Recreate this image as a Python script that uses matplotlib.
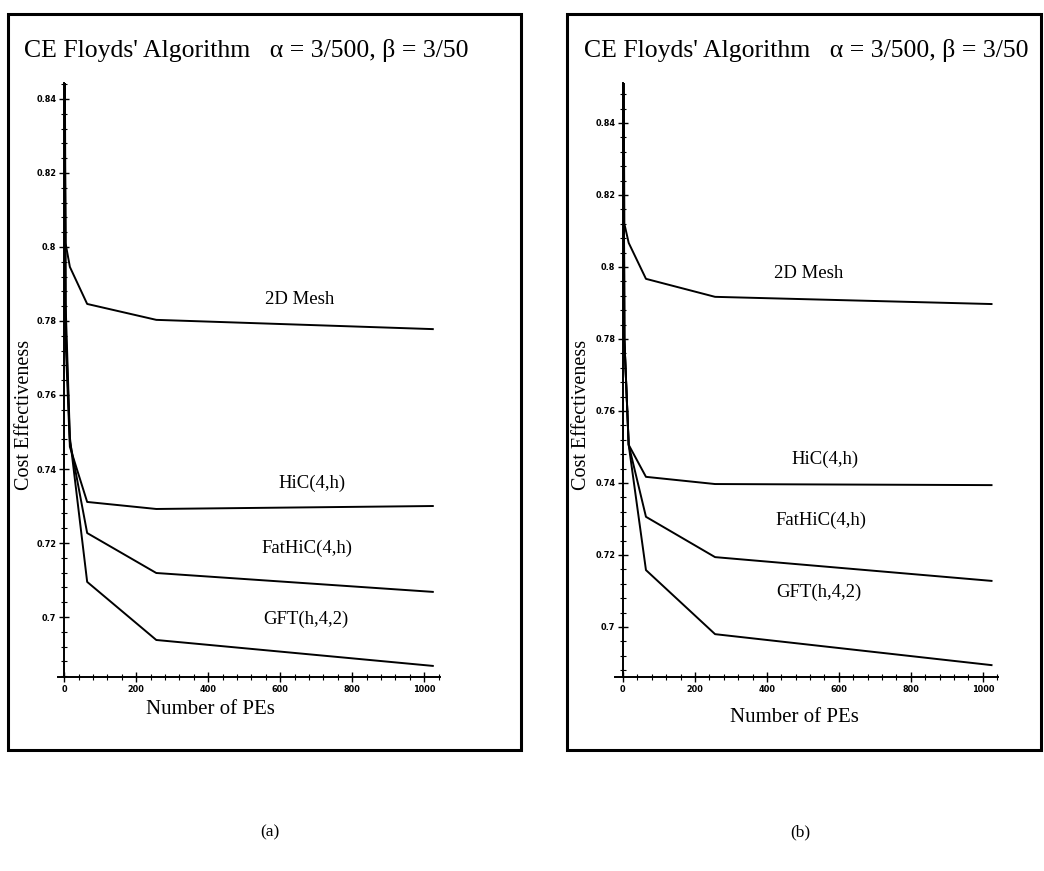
import matplotlib
matplotlib.use("Agg")
import matplotlib.pyplot as plt
from matplotlib.patches import Rectangle
from matplotlib.ticker import AutoMinorLocator

# ---- data ----
pes = [1, 4, 16, 64, 256, 1024]
series_names = ["2D Mesh", "HiC(4,h)", "FatHiC(4,h)", "GFT(h,4,2)"]

a_mesh = [0.870, 0.801, 0.7946, 0.7846, 0.7803, 0.7778]
a_hic = [0.860, 0.775, 0.7460, 0.7311, 0.7292, 0.7300]
a_fat = [0.860, 0.780, 0.7475, 0.7227, 0.7119, 0.7068]
a_gft = [0.860, 0.785, 0.7485, 0.7095, 0.6938, 0.6868]

b_mesh = [0.880, 0.812, 0.8067, 0.7967, 0.7917, 0.7897]
b_hic = [0.870, 0.780, 0.7506, 0.7417, 0.7397, 0.7394]
b_fat = [0.870, 0.780, 0.7506, 0.7306, 0.7194, 0.7128]
b_gft = [0.870, 0.780, 0.7506, 0.7158, 0.6980, 0.6894]

x_ticks = [0, 200, 400, 600, 800, 1000]
y_ticks = [0.70, 0.72, 0.74, 0.76, 0.78, 0.80, 0.82, 0.84]
y_tick_labels = ["0.7", "0.72", "0.74", "0.76", "0.78", "0.8", "0.82", "0.84"]

title = "CE Floyds' Algorithm   \u03b1 = 3/500, \u03b2 = 3/50"
captions = ["(a)", "(b)"]

fig = plt.figure(figsize=(10.44, 8.71), dpi=100)
W, H = 1044, 871

def fx(px):
    return px / W

def fy(py):
    return 1 - py / H

panels = [
    dict(data=[a_mesh, a_hic, a_fat, a_gft], box=(8, 14, 521, 750),
         ax=(58, 440, 83, 677), xlim=(-17, 1044), ylim=(0.6838, 0.8443),
         title_xy=(24, 51), ylab_x=25, xlab_xy=(210, 709),
         labels=[(300, 300), (312, 483), (307, 548), (306, 619)],
         caption=(270, 832)),
    dict(data=[b_mesh, b_hic, b_fat, b_gft], box=(567, 14, 1041, 750),
         ax=(615, 998, 83, 677), xlim=(-22, 1042), ylim=(0.6861, 0.8511),
         title_xy=(584, 51), ylab_x=582, xlab_xy=(794, 717),
         labels=[(809, 274), (825, 459), (821, 520), (819, 592)],
         caption=(800, 832)),
]

serif = 'Liberation Serif'

for i, p in enumerate(panels):
    x0, y0, x1, y1 = p['box']
    fig.patches.append(Rectangle((fx(x0), fy(y1)), fx(x1) - fx(x0), fy(y0) - fy(y1),
                                 transform=fig.transFigure, fill=False,
                                 edgecolor='black', linewidth=2.2))
    l, r, t, b = p['ax']
    ax = fig.add_axes([fx(l), fy(b), fx(r) - fx(l), fy(t) - fy(b)])
    for vals in p['data']:
        ax.plot(pes, vals, color='black', linewidth=1.4, clip_on=True)
    ax.set_xlim(*p['xlim'])
    ax.set_ylim(*p['ylim'])
    ax.spines['top'].set_visible(False)
    ax.spines['right'].set_visible(False)
    ax.spines['left'].set_position(('data', 0))
    ax.spines['left'].set_linewidth(1.4)
    ax.spines['bottom'].set_linewidth(1.4)
    ax.set_xticks(x_ticks)
    ax.set_xticklabels([str(v) for v in x_ticks])
    ax.set_yticks(y_ticks)
    ax.set_yticklabels(y_tick_labels)
    ax.xaxis.set_minor_locator(AutoMinorLocator(5))
    ax.yaxis.set_minor_locator(AutoMinorLocator(5))
    ax.tick_params(which='major', direction='inout', length=7, width=1.0,
                   labelsize=6.5, pad=2)
    ax.tick_params(which='minor', direction='inout', length=4, width=0.8)
    for lab in ax.get_xticklabels() + ax.get_yticklabels():
        lab.set_fontfamily('DejaVu Sans')
        lab.set_fontstretch('condensed')
        lab.set_fontweight('bold')
    ax.patch.set_alpha(0)

    tx, ty = p['title_xy']
    fig.text(fx(tx), fy(ty), title, fontsize=18.5, family=serif,
             ha='left', va='center')
    fig.text(fx(p['ylab_x']), fy(415), "Cost Effectiveness", fontsize=14.5,
             family=serif, rotation=90, ha='center', va='center')
    xx, xy = p['xlab_xy']
    fig.text(fx(xx), fy(xy), "Number of PEs", fontsize=15, family=serif,
             ha='center', va='center')
    for name, (lx, ly) in zip(series_names, p['labels']):
        fig.text(fx(lx), fy(ly), name, fontsize=13.5, family=serif,
                 ha='center', va='center')
    cx, cy = p['caption']
    fig.text(fx(cx), fy(cy), captions[i], fontsize=12.5, family=serif,
             ha='center', va='center')

fig.savefig("out.png", dpi=100)
